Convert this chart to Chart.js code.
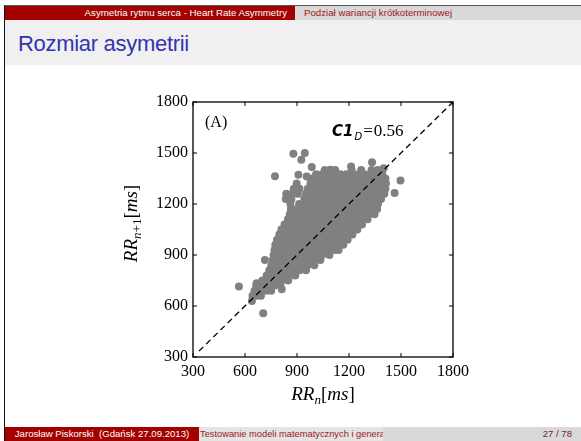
<!DOCTYPE html>
<html>
<head>
<meta charset="utf-8">
<script src="https://cdn.jsdelivr.net/npm/chart.js@4.4.0/dist/chart.umd.min.js"></script>
<style>
  html, body { margin: 0; padding: 0; }
  body { width: 581px; height: 441px; position: relative; overflow: hidden; background: #fff;
         font-family: "Liberation Sans", Arial, sans-serif; }
  .box { position: absolute; overflow: hidden; white-space: nowrap; }
  #topLine { left: 4px; top: 5px; right: 0; height: 1px; background: #555; }
  #leftLine { left: 4px; top: 5px; width: 1px; bottom: 0; background: #111; }
  #headLeft { left: 5px; top: 6px; width: 290px; height: 14px; background: #a30000; color: #fff;
              font-size: 9.7px; line-height: 14px; text-align: right; padding-right: 8px; box-sizing: border-box; }
  #headRight { left: 295px; top: 6px; right: 0; height: 14px; background: #d9d9d9; color: #a01818;
               font-size: 9.7px; line-height: 14px; padding-left: 9px; box-sizing: border-box; }
  #titleBand { left: 5px; top: 20px; right: 0; height: 45px; background: #f0f0f0; }
  #title { left: 18px; top: 29px; color: #3333b3; font-size: 22px; line-height: 30px; letter-spacing: -0.3px; }
  #footLeft { left: 5px; top: 427px; width: 194px; height: 14px; background: #a30000; color: #fff;
              font-size: 9.6px; line-height: 14px; text-align: center; }
  #footMid { left: 199px; top: 427px; width: 184px; height: 14px; background: #e4e4e4; color: #a01818;
             font-size: 9.3px; line-height: 14px; padding-left: 1px; box-sizing: border-box; }
  #footRight { left: 383px; top: 427px; right: 0; height: 14px; background: #d9d9d9; color: #7a1c1c;
               font-size: 9.6px; line-height: 14px; text-align: right; padding-right: 9px; box-sizing: border-box; }
  #chartWrap { position: absolute; left: 0; top: 0; width: 581px; height: 441px; }
</style>
</head>
<body>
<div class="box" id="topLine"></div>
<div class="box" id="leftLine"></div>
<div class="box" id="headLeft">Asymetria rytmu serca - Heart Rate Asymmetry</div>
<div class="box" id="headRight">Podział wariancji krótkoterminowej</div>
<div class="box" id="titleBand"></div>
<div class="box" id="title">Rozmiar asymetrii</div>
<div class="box" id="footLeft">Jarosław Piskorski &nbsp;(Gdańsk 27.09.2013)</div>
<div class="box" id="footMid">Testowanie modeli matematycznych i generatorów</div>
<div class="box" id="footRight">27 / 78</div>
<div id="chartWrap"><canvas id="poincare" width="581" height="441"></canvas></div>

<script>
// Axis range and ticks (RR in ms)
const axisMin = 300;
const axisMax = 1800;
const tickValues = [300, 600, 900, 1200, 1500, 1800];

// Poincare cloud: [RR(n+1), [RR(n) ...]]
const cloudRows = [
    [630, [640]],
    [660, [643, 668, 692]],
    [690, [655, 690, 722, 751]],
    [720, [665, 700, 736, 770, 804]],
    [750, [700, 738, 777, 812, 849]],
    [780, [725, 760, 795, 830, 865, 890]],
    [810, [740, 775, 810, 845, 880, 915, 952]],
    [840, [752, 786, 820, 855, 890, 925, 960, 1000]],
    [870, [760, 795, 830, 865, 900, 935, 970, 1005, 1035]],
    [900, [765, 800, 835, 870, 905, 940, 975, 1010, 1045, 1087]],
    [930, [770, 805, 840, 875, 910, 945, 980, 1015, 1050, 1085, 1120, 1140]],
    [960, [775, 810, 845, 880, 915, 950, 985, 1020, 1055, 1090, 1125, 1167]],
    [990, [785, 820, 855, 890, 925, 960, 995, 1030, 1065, 1100, 1135, 1170, 1192]],
    [1020, [798, 833, 868, 903, 938, 973, 1008, 1043, 1078, 1113, 1148, 1183, 1220]],
    [1050, [810, 845, 880, 915, 950, 985, 1020, 1055, 1090, 1125, 1160, 1195, 1230, 1248]],
    [1080, [828, 863, 898, 933, 968, 1003, 1038, 1073, 1108, 1143, 1178, 1213, 1248, 1275]],
    [1110, [848, 883, 918, 953, 988, 1023, 1058, 1093, 1128, 1163, 1198, 1233, 1268, 1307]],
    [1140, [858, 893, 928, 963, 998, 1033, 1068, 1103, 1138, 1173, 1208, 1243, 1278, 1313, 1347]],
    [1170, [865, 900, 935, 970, 1005, 1040, 1075, 1110, 1145, 1180, 1215, 1250, 1285, 1320, 1362]],
    [1200, [862, 912, 947, 982, 1017, 1052, 1087, 1122, 1157, 1192, 1227, 1262, 1297, 1332, 1367]],
    [1230, [835, 868, 942, 977, 1012, 1047, 1082, 1117, 1152, 1187, 1222, 1257, 1292, 1327, 1360, 1385]],
    [1260, [838, 872, 905, 952, 987, 1022, 1057, 1092, 1127, 1162, 1197, 1232, 1267, 1302, 1337, 1372, 1404]],
    [1290, [882, 914, 962, 997, 1032, 1067, 1102, 1137, 1172, 1207, 1242, 1277, 1312, 1347, 1382, 1410]],
    [1320, [898, 978, 1012, 1046, 1080, 1114, 1148, 1182, 1216, 1250, 1284, 1318, 1352, 1386, 1413]],
    [1350, [978, 1012, 1046, 1080, 1114, 1148, 1182, 1216, 1250, 1284, 1318, 1352, 1386, 1410]],
    [1375, [1010, 1045, 1080, 1115, 1150, 1185, 1220, 1255, 1290, 1325, 1360, 1392]],
    [1400, [1060, 1120, 1215, 1270, 1330, 1365]]
];

// Isolated beats outside the main cloud
const outlierX = [565, 705, 812, 715, 667, 773, 879, 945, 925, 908, 956, 985, 1093, 1212, 1333, 1400, 1463, 1497];
const outlierY = [714, 558, 698, 870, 734, 1363, 1495, 1500, 1460, 1372, 1362, 1418, 1402, 1420, 1446, 1410, 1264, 1338];

// Identity line RR(n+1) = RR(n)
const identityLine = [335, 1800];

const C1D = "0.56";

const points = [];
cloudRows.forEach(([y, xs]) => xs.forEach(x => points.push({ x: x, y: y })));
outlierX.forEach((x, i) => points.push({ x: x, y: outlierY[i] }));

const serif = '"Liberation Serif", "Times New Roman", serif';

// draws a sequence of text pieces [text, font, dy, gapAfter]
function drawPieces(ctx, pieces, x, y, align) {
    let total = 0;
    pieces.forEach(p => { ctx.font = p[1]; total += ctx.measureText(p[0]).width + (p[3] || 0); });
    let cx = align === "center" ? x - total / 2 : x;
    pieces.forEach(p => {
        ctx.font = p[1];
        ctx.fillText(p[0], cx, y + (p[2] || 0));
        cx += ctx.measureText(p[0]).width + (p[3] || 0);
    });
}

const framePlugin = {
    id: "frame",
    afterDatasetsDraw(chart) {
        const { ctx, chartArea: a, scales } = chart;
        ctx.save();
        ctx.strokeStyle = "#000";
        ctx.lineWidth = 1.3;
        ctx.strokeRect(a.left, a.top, a.right - a.left, a.bottom - a.top);

        // inward ticks on all four sides
        ctx.lineWidth = 1;
        ctx.beginPath();
        tickValues.forEach(v => {
            const px = scales.x.getPixelForValue(v);
            const py = scales.y.getPixelForValue(v);
            ctx.moveTo(px, a.bottom); ctx.lineTo(px, a.bottom - 4);
            ctx.moveTo(px, a.top); ctx.lineTo(px, a.top + 4);
            ctx.moveTo(a.left, py); ctx.lineTo(a.left + 4, py);
            ctx.moveTo(a.right, py); ctx.lineTo(a.right - 4, py);
        });
        ctx.stroke();

        ctx.fillStyle = "#000";
        ctx.textBaseline = "alphabetic";
        ctx.textAlign = "left";

        // panel label and C1d annotation
        drawPieces(ctx, [["(A)", "16px " + serif]], a.left + 12, a.top + 25);
        drawPieces(ctx, [
            ["C1", 'italic bold 15px "DejaVu Sans", sans-serif', 0, 1],
            ["D", 'italic 10px "DejaVu Sans", sans-serif', 4, 1],
            ["=", "17px " + serif, 0, 1],
            [C1D, "17px " + serif]
        ], a.left + 139, a.top + 34);

        // x axis title
        const xPieces = [
            ["RR", "italic 19px " + serif],
            ["n", "italic 13px " + serif, 4],
            ["[", "19px " + serif],
            ["ms", "italic 19px " + serif],
            ["]", "19px " + serif]
        ];
        drawPieces(ctx, xPieces, (a.left + a.right) / 2, a.bottom + 43, "center");

        // y axis title
        ctx.translate(a.left - 56, (a.top + a.bottom) / 2 - 6);
        ctx.rotate(-Math.PI / 2);
        const yPieces = [
            ["RR", "italic 19px " + serif],
            ["n", "italic 13px " + serif, 4],
            ["+1", "13px " + serif, 4],
            ["[", "19px " + serif],
            ["ms", "italic 19px " + serif],
            ["]", "19px " + serif]
        ];
        drawPieces(ctx, yPieces, 0, 0, "center");
        ctx.restore();
    }
};

const axisCommon = {
    type: "linear",
    min: axisMin,
    max: axisMax,
    grid: { display: false, drawTicks: false },
    border: { display: false },
    afterBuildTicks: scale => { scale.ticks = tickValues.map(v => ({ value: v })); },
    ticks: {
        color: "#000",
        font: { family: serif, size: 16 },
        maxRotation: 0,
        autoSkip: false,
        callback: value => String(value)
    }
};

new Chart(document.getElementById("poincare"), {
    type: "scatter",
    data: {
        datasets: [
            {
                type: "line",
                data: identityLine.map(v => ({ x: v, y: v })),
                borderColor: "#000",
                borderWidth: 1.3,
                borderDash: [6, 4],
                pointRadius: 0,
                fill: false,
                order: 0
            },
            {
                data: points,
                backgroundColor: "#808080",
                borderWidth: 0,
                pointRadius: 4,
                pointHoverRadius: 4,
                order: 1
            }
        ]
    },
    options: {
        responsive: false,
        animation: false,
        devicePixelRatio: 1,
        events: [],
        layout: { padding: { left: 0, top: 102, right: 128, bottom: 0 } },
        plugins: {
            legend: { display: false },
            tooltip: { enabled: false }
        },
        scales: {
            x: Object.assign({}, axisCommon, {
                position: "bottom",
                ticks: Object.assign({}, axisCommon.ticks, { padding: 5 }),
                afterFit: scale => { scale.height = 84; }
            }),
            y: Object.assign({}, axisCommon, {
                position: "left",
                ticks: Object.assign({}, axisCommon.ticks, { padding: 5 }),
                afterFit: scale => { scale.width = 193; }
            })
        }
    },
    plugins: [framePlugin]
});
</script>
</body>
</html>
